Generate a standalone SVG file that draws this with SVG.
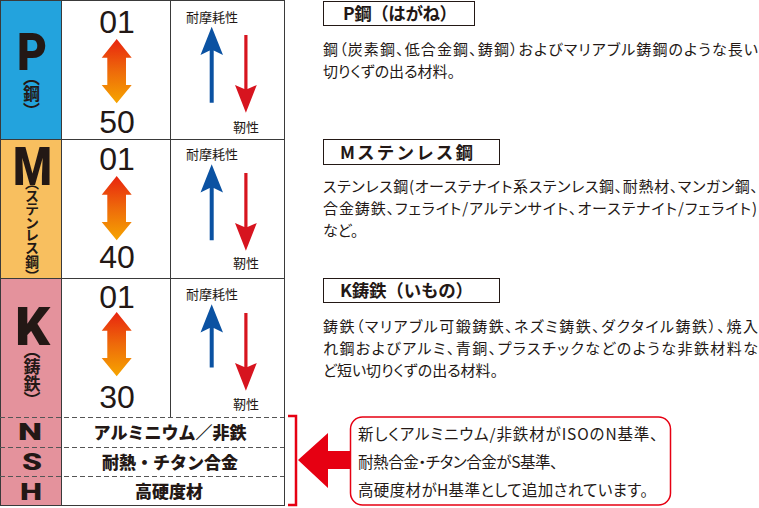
<svg xmlns="http://www.w3.org/2000/svg" width="759" height="508" viewBox="0 0 759 508">
<style>
.jp{font-family:"Noto Sans CJK JP","Noto Sans",sans-serif;fill:#231815}
.body{font-size:15px;font-feature-settings:"palt";}
.co{font-size:15.5px;font-feature-settings:"palt";}
.head{font-size:17.5px;font-weight:700}
.lbl{font-size:13px}
.num{font-family:"Liberation Sans",Arial,sans-serif;font-size:32px;fill:#231815;text-anchor:middle}
.big{font-family:Roboto,"Liberation Sans",sans-serif;font-weight:900;fill:#231815;text-anchor:middle}
.vt{font-family:"Noto Sans CJK JP",sans-serif;font-weight:700;fill:#231815;writing-mode:vertical-rl;text-anchor:middle;font-feature-settings:"vpal"}
.cell{font-size:17px;font-weight:900;text-anchor:middle}
.grid{stroke:#3a3a3a;stroke-width:1;fill:none}
.dash{stroke:#555;stroke-width:1;stroke-dasharray:5 3;fill:none}
.hbox{fill:#fff;stroke:#231815;stroke-width:1}
</style>
<defs>
<linearGradient id="og" x1="0" y1="0" x2="0" y2="1">
<stop offset="0" stop-color="#e8240f"/>
<stop offset="0.5" stop-color="#ee6a0a"/>
<stop offset="1" stop-color="#f6a500"/>
</linearGradient>
<path id="orange" d="M116.7,39 L131.7,57.7 L126,57.7 L126,85 L131.7,85 L116.7,103.3 L101.7,85 L107.3,85 L107.3,57.7 L101.7,57.7 Z" fill="url(#og)"/>
<path id="blue" d="M211.7,26.7 L223,55 L213.7,50.5 L213.7,102.7 L209.7,102.7 L209.7,50.5 L200.5,55 Z" fill="#0b52a2"/>
<path id="blueS" d="M211.7,26.7 L223,55 L213.7,50.5 L213.7,90 L209.7,90 L209.7,50.5 L200.5,55 Z" fill="#0b52a2"/>
<path id="red" d="M244.3,35 L247.5,35 L247.5,89 L256.8,85 L245.9,112.7 L235,85 L244.3,89 Z" fill="#d7141f"/>
</defs>

<!-- colored column -->
<rect x="0" y="0" width="61" height="139" fill="#23a3dd"/>
<rect x="0" y="139" width="61" height="139" fill="#f8bf5f"/>
<rect x="0" y="278" width="61" height="227" fill="#e4929c"/>

<g id="grid">
<rect class="grid" x="0.5" y="0.5" width="284" height="505"/>
<line class="grid" x1="61.5" y1="0" x2="61.5" y2="505"/>
<line class="grid" x1="170.5" y1="0" x2="170.5" y2="417"/>
<line class="grid" x1="0" y1="139.5" x2="284" y2="139.5"/>
<line class="grid" x1="0" y1="278.5" x2="284" y2="278.5"/>
<line class="dash" x1="0" y1="417.5" x2="284" y2="417.5"/>
<line class="dash" x1="0" y1="447.5" x2="284" y2="447.5"/>
<line class="dash" x1="0" y1="476.5" x2="284" y2="476.5"/>
</g>

<g id="row-P">
<text class="big" x="32" y="70" font-size="52" textLength="30" lengthAdjust="spacingAndGlyphs">P</text>
<text class="vt" x="31.5" y="94" font-size="17">（鋼）</text>
<text class="num" x="117" y="33">01</text>
<use href="#orange"/>
<text class="num" x="117" y="133">50</text>
<text class="jp lbl" x="186" y="22">耐摩耗性</text>
<use href="#blue"/>
<use href="#red"/>
<text class="jp lbl" x="233" y="132">靭性</text>
</g>

<g id="row-M">
<text class="big" x="32.5" y="185" font-size="53" textLength="39" lengthAdjust="spacingAndGlyphs">M</text>
<text class="vt" x="32" y="229" font-size="14">（ステンレス鋼）</text>
<text class="num" x="117" y="170">01</text>
<use href="#orange" transform="translate(0,137)"/>
<text class="num" x="117" y="268">40</text>
<text class="jp lbl" x="186" y="159">耐摩耗性</text>
<use href="#blue" transform="translate(0,137.5)"/>
<use href="#red" transform="translate(0,138)"/>
<text class="jp lbl" x="233" y="268">靭性</text>
</g>

<g id="row-K">
<text class="big" x="32.5" y="345" font-size="53" textLength="35" lengthAdjust="spacingAndGlyphs">K</text>
<text class="vt" x="32" y="375" font-size="17">（鋳鉄）</text>
<text class="num" x="117" y="308">01</text>
<use href="#orange" transform="translate(0,273)"/>
<text class="num" x="117" y="408">30</text>
<text class="jp lbl" x="186" y="299">耐摩耗性</text>
<use href="#blueS" transform="translate(0,277.5)"/>
<use href="#red" transform="translate(0,278)"/>
<text class="jp lbl" x="233" y="409">靭性</text>
</g>

<g id="row-N">
<text class="big" x="30" y="440" font-size="24" textLength="24" lengthAdjust="spacingAndGlyphs">N</text>
<text class="jp cell" x="170" y="439">アルミニウム／非鉄</text>
</g>
<g id="row-S">
<text class="big" x="32" y="470" font-size="24" textLength="20" lengthAdjust="spacingAndGlyphs">S</text>
<text class="jp cell" x="170" y="469">耐熱・チタン合金</text>
</g>
<g id="row-H">
<text class="big" x="31" y="500" font-size="24" textLength="22" lengthAdjust="spacingAndGlyphs">H</text>
<text class="jp cell" x="169" y="498">高硬度材</text>
</g>

<g id="desc-P">
<rect class="hbox" x="323.5" y="1.5" width="151" height="24"/>
<text class="jp head" x="343" y="20" textLength="114">P鋼（はがね）</text>
<text class="jp body" x="323" y="55" textLength="435">鋼（炭素鋼、低合金鋼、鋳鋼）およびマリアブル鋳鋼のような長い</text>
<text class="jp body" x="323" y="77">切りくずの出る材料。</text>
</g>

<g id="desc-M">
<rect class="hbox" x="323.5" y="139.5" width="176" height="25"/>
<text class="jp head" x="340" y="159" textLength="133">Mステンレス鋼</text>
<text class="jp body" x="323" y="192" textLength="435">ステンレス鋼(オーステナイト系ステンレス鋼、耐熱材、マンガン鋼、</text>
<text class="jp body" x="323" y="214" textLength="434">合金鋳鉄、フェライト/アルテンサイト、オーステナイト/フェライト)</text>
<text class="jp body" x="323" y="236">など。</text>
</g>

<g id="desc-K">
<rect class="hbox" x="323.5" y="278.5" width="176" height="24"/>
<text class="jp head" x="340" y="297" textLength="133">K鋳鉄（いもの）</text>
<text class="jp body" x="323" y="332" textLength="435">鋳鉄（マリアブル可鍛鋳鉄、ネズミ鋳鉄、ダクタイル鋳鉄）、焼入</text>
<text class="jp body" x="323" y="354" textLength="435">れ鋼およびアルミ、青銅、プラスチックなどのような非鉄材料な</text>
<text class="jp body" x="323" y="376">ど短い切りくずの出る材料。</text>
</g>

<g id="connectors">
<path d="M288,416 H296 V505 H288" fill="none" stroke="#e60012" stroke-width="2.5"/>
<path d="M298,460 L328,433 L328,451 L352,451 L352,469 L328,469 L328,488 Z" fill="#e60012"/>
</g>

<g id="callout">
<rect x="350.5" y="417" width="320" height="88" rx="12" fill="#fff" stroke="#e60012" stroke-width="1.5"/>
<text class="jp co" x="358" y="440" textLength="300">新しくアルミニウム/非鉄材がISOのN基準、</text>
<text class="jp co" x="358" y="468" textLength="200">耐熱合金・チタン合金がS基準、</text>
<text class="jp co" x="358" y="496" textLength="290">高硬度材がH基準として追加されています。</text>
</g>
</svg>
